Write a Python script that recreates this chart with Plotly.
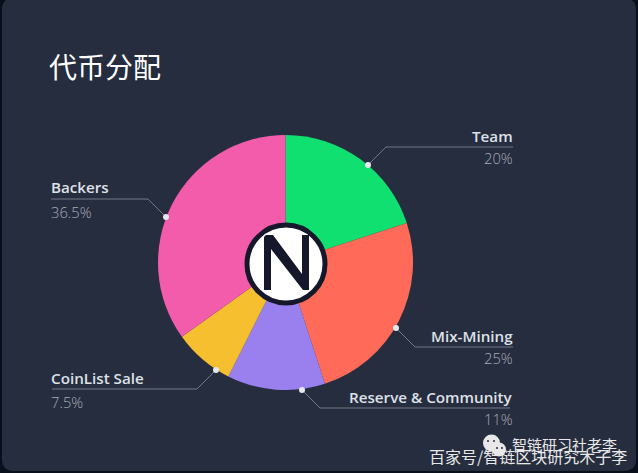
import plotly.graph_objects as go

W, H = 638, 473

# Data
categories = ["Team", "Mix-Mining", "Reserve & Community", "CoinList Sale", "Backers"]
values = [20, 25, 12.4, 7.7, 34.9]
value_labels = ["20%", "25%", "11%", "7.5%", "36.5%"]
colors = ["#10E070", "#FF6B58", "#9A80EE", "#F5BF2F", "#F25CAB"]
title_text = "代币分配"
watermark_top = "智链研习社老李"
watermark_bottom = "百家号/智链区块研究木子李"

# Callout geometry in page pixels: dot, elbow, end
callout_paths = [
    [(368, 165), (386, 147), (513, 147)],
    [(396, 328), (415, 347), (513, 347)],
    [(302, 390), (320, 408), (510, 408)],
    [(216, 370), (197, 389), (52, 389)],
    [(166, 217), (148, 199), (51, 199)],
]
label_pos = [(513, 135.5, 157.5, "right"), (513, 335.5, 357.5, "right"), (513, 396.5, 418.5, "right"),
             (51, 377.5, 401.5, "left"), (51, 186.5, 211.5, "left")]


def X(v):
    return v / W


def Y(v):
    return 1 - v / H


def P(v):
    return f"{X(v[0]):.5f},{Y(v[1]):.5f}"


def poly(points):
    return "M" + " L".join(P(p) for p in points) + " Z"


def circle(cx, cy, r, fill, line=None, lw=0):
    return dict(type="circle", xref="paper", yref="paper", layer="above",
                x0=X(cx - r), x1=X(cx + r), y0=Y(cy + r), y1=Y(cy - r),
                fillcolor=fill, line=dict(color=line or fill, width=lw))


CX, CY, R = 285.5, 262.5, 127.5
fig = go.Figure(go.Pie(
    labels=categories, values=values, sort=False, direction="clockwise", rotation=0,
    marker=dict(colors=colors, line=dict(width=0)), textinfo="none", hoverinfo="label",
    showlegend=False,
    domain=dict(x=[X(CX - R), X(CX + R)], y=[Y(CY + R), Y(CY - R)]),
))

shapes = []
# card with rounded corners, drawn below the pie
l, t, r, b, c = 2, -2, 636, 471, 12
card = (f"M{P((l + c, t))} L{P((r - c, t))} Q{P((r, t))} {P((r, t + c))} "
        f"L{P((r, b - c))} Q{P((r, b))} {P((r - c, b))} L{P((l + c, b))} "
        f"Q{P((l, b))} {P((l, b - c))} L{P((l, t + c))} Q{P((l, t))} {P((l + c, t))} Z")
shapes.append(dict(type="path", path=card, xref="paper", yref="paper", layer="below",
                   fillcolor="#262D3F", line=dict(width=0)))

# leaders and dots
for pts in callout_paths:
    shapes.append(dict(type="path", xref="paper", yref="paper", layer="above",
                       path="M" + " L".join(P(p) for p in pts),
                       fillcolor="rgba(0,0,0,0)", line=dict(color="#737887", width=1)))
    shapes.append(circle(pts[0][0], pts[0][1], 3, "#E6E8EE"))

# logo
shapes.append(circle(286, 264, 39, "#FFFFFF", "#15172A", 5))
n_glyph = [(264, 290), (264, 237), (266, 235), (273, 235), (302, 274), (302, 235), (309, 235),
           (309, 290), (303, 290), (271, 249), (271, 290)]
shapes.append(dict(type="path", path=poly(n_glyph), xref="paper", yref="paper", layer="above",
                   fillcolor="#15172A", line=dict(width=0)))

# WeChat-like icon of the watermark
shapes.append(circle(491.5, 443, 8.5, "#E8E8E8"))
shapes.append(circle(499, 449.5, 7, "#E8E8E8"))
for ex, ey, col in [(488, 441, "#262D3F"), (494, 441, "#262D3F"), (497, 448, "#262D3F"), (502, 448, "#262D3F")]:
    shapes.append(circle(ex, ey, 1, col))

annotations = []


def note(x, y, text, size, color, anchor="left", family="Open Sans", weight=None):
    font = dict(family=family, size=size, color=color)
    if weight:
        font["weight"] = weight
    annotations.append(dict(x=X(x), y=Y(y), xref="paper", yref="paper", text=text, showarrow=False,
                            xanchor=anchor, yanchor="middle", font=font, borderpad=0, borderwidth=0))


note(49, 65.5, title_text, 28, "#FFFFFF", family="Noto Sans CJK SC")
for cat, val, (x, y1, y2, anchor) in zip(categories, value_labels, label_pos):
    note(x, y1, cat, 15.2, "#DFE1E8", anchor, weight=600)
    note(x, y2, val, 14.7, "#A8ACB7", anchor, weight=300)
note(512, 444, watermark_top, 15, "#E8E8E8", family="Noto Sans CJK SC")
note(429, 456, watermark_bottom, 16, "#E8E8E8", family="Noto Sans CJK SC")

fig.update_layout(width=W, height=H, margin=dict(l=0, r=0, t=0, b=0), autosize=False,
                  paper_bgcolor="#0A0F1C", plot_bgcolor="rgba(0,0,0,0)",
                  shapes=shapes, annotations=annotations)

fig.write_html("out.html", config=dict(displayModeBar=False),
               post_script="document.body.style.margin='0';document.documentElement.style.overflow='hidden';")
